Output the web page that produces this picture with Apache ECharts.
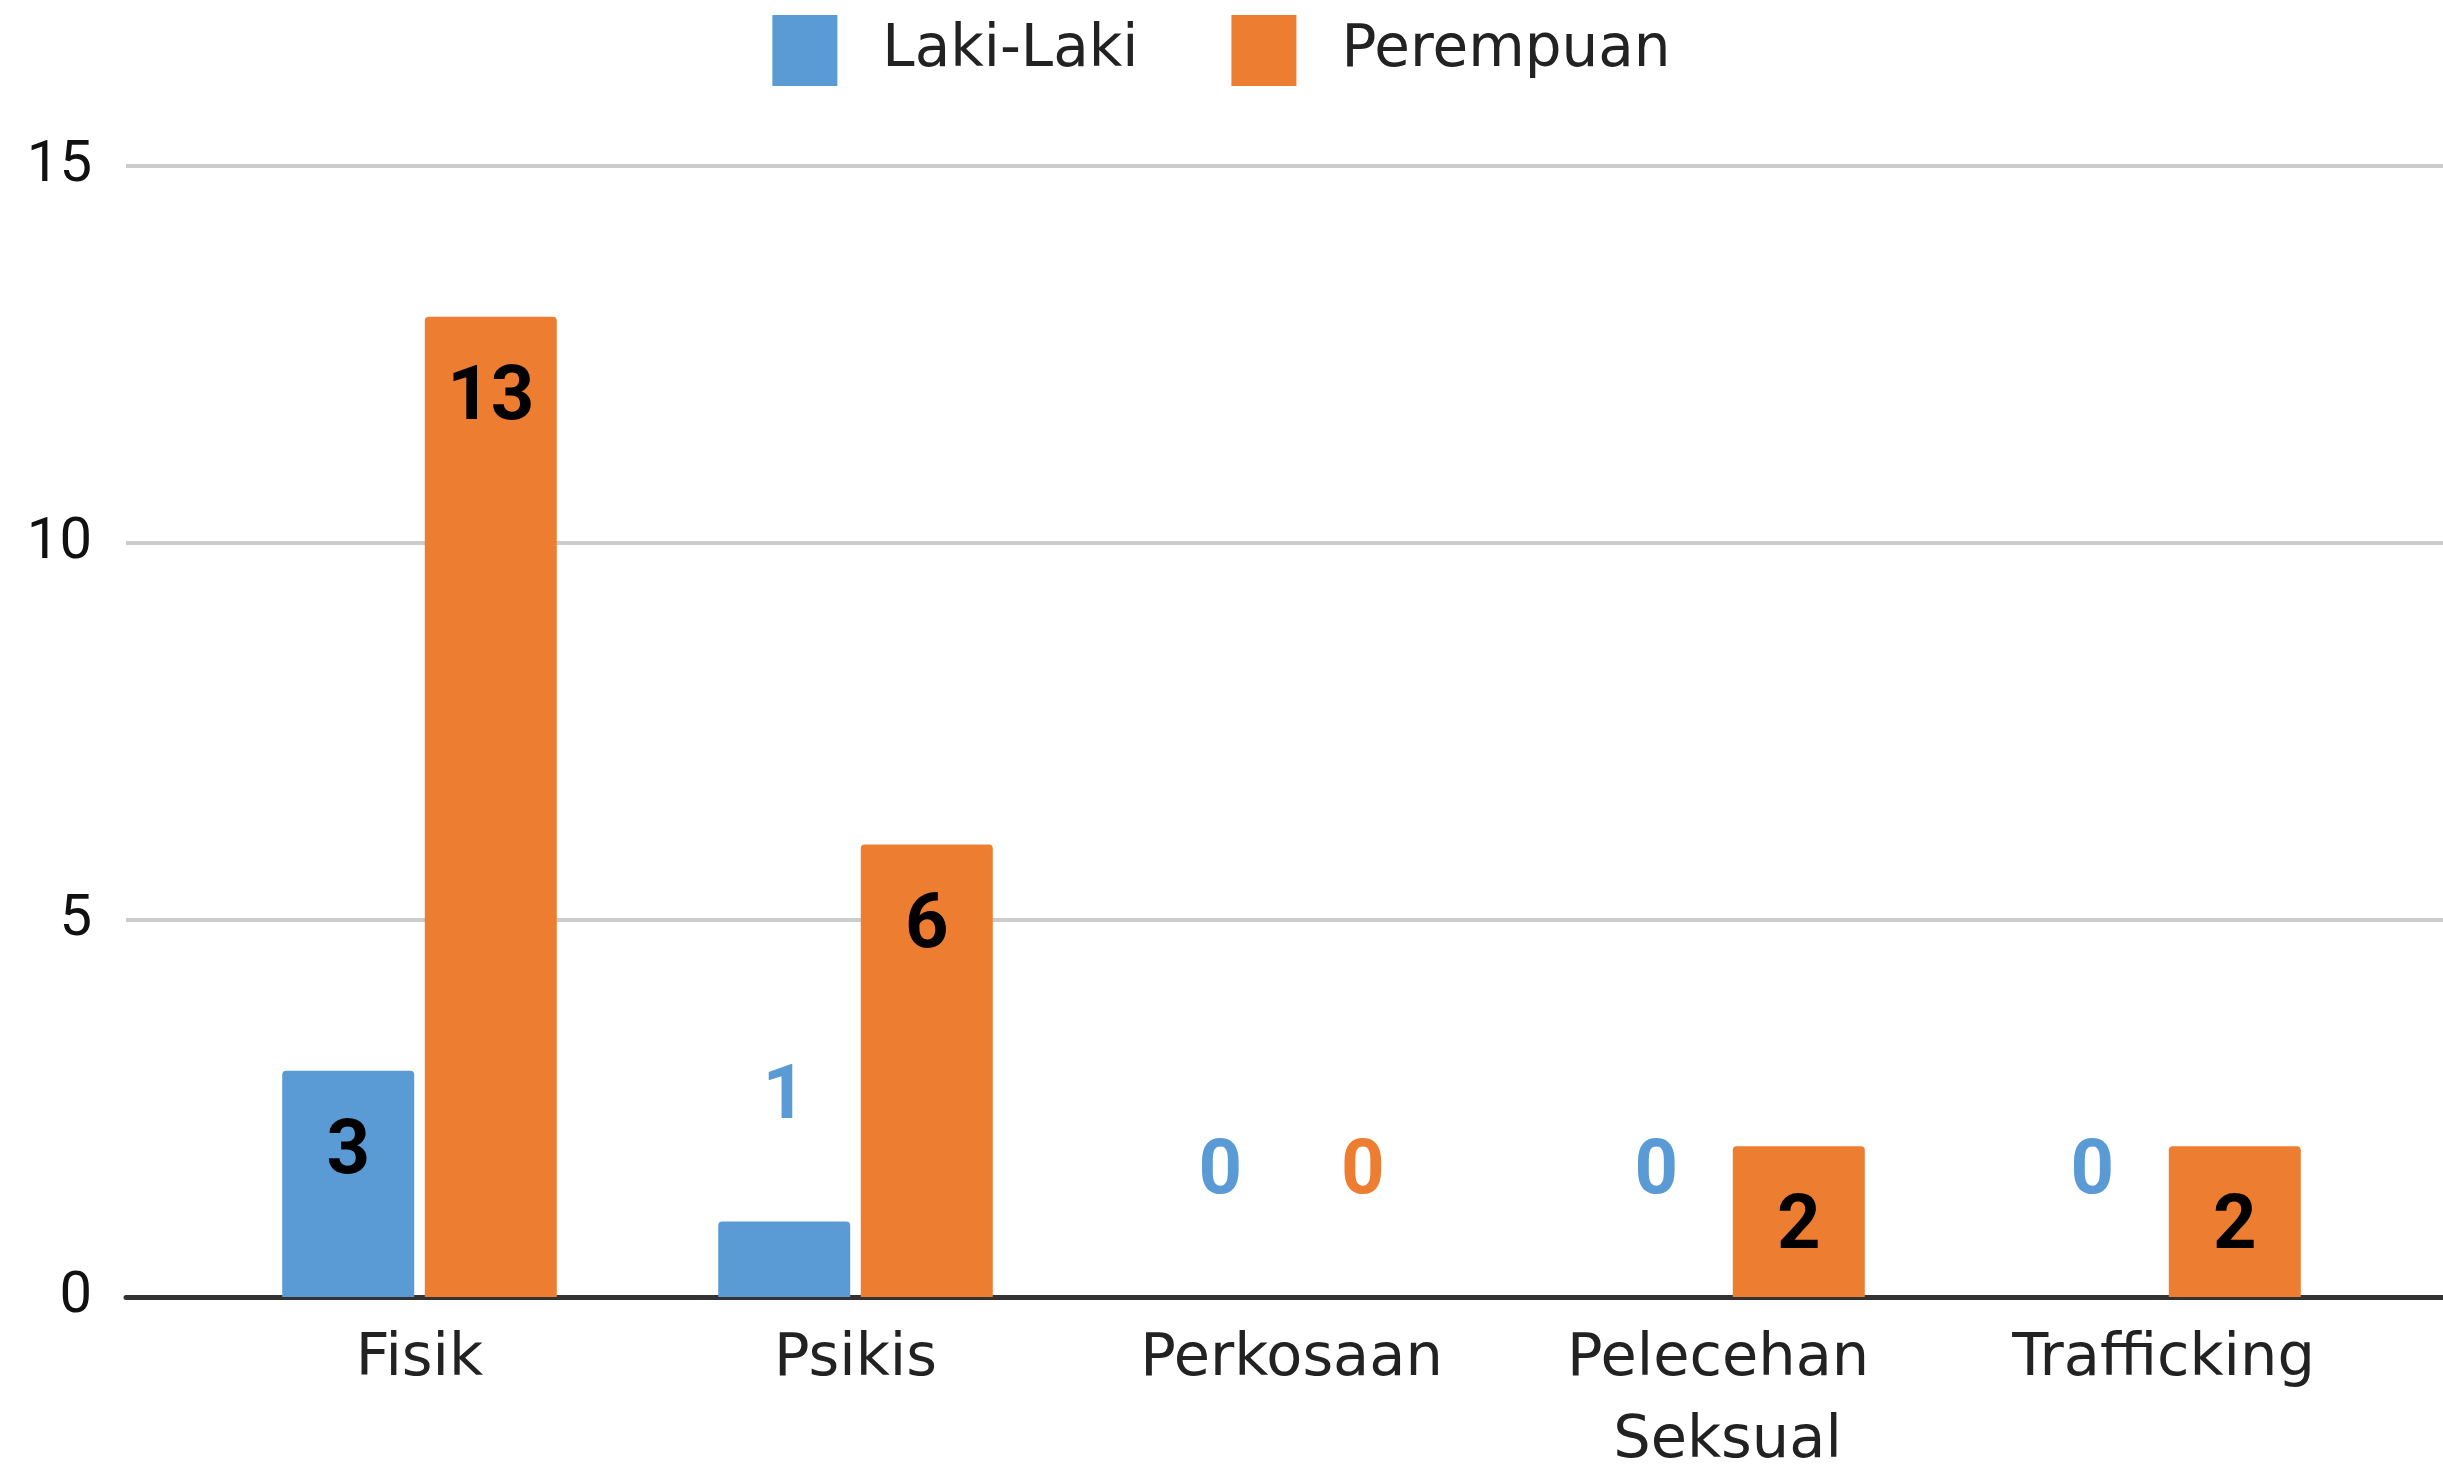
<!DOCTYPE html>
<html>
<head>
<meta charset="utf-8">
<script src="https://cdn.jsdelivr.net/npm/echarts@6/dist/echarts.min.js"></script>
<style>
  html, body { margin: 0; padding: 0; background: #fff; }
  #chart { width: 2443px; height: 1464px; }
</style>
</head>
<body>
<div id="chart"></div>
<script>
const categories = ['Fisik', 'Psikis', 'Perkosaan', 'Pelecehan Seksual', 'Trafficking']
const lakiLaki = [3, 1, 0, 0, 0]
const perempuan = [13, 6, 0, 2, 2]
const seriesNames = ['Laki-Laki', 'Perempuan']
const colors = ['#5B9BD5', '#ED7D31']

// big bars get the number inside, small ones above in series colour
function toBarData(values, color) {
    return values.map(v => {
        if (v >= 2) {
            return { value: v, label: { position: 'insideTop', distance: 45, color: '#000' } }
        }
        return { value: v, label: { position: 'top', distance: 85, color: color } }
    })
}

const chart = echarts.init(document.getElementById('chart'))

const option = {
    animation: false,
    backgroundColor: '#fff',
    legend: {
        top: 10,
        left: 'center',
        itemWidth: 65,
        itemHeight: 71,
        itemGap: 93,
        icon: 'rect',
        data: seriesNames,
        textStyle: {
            fontFamily: 'DejaVu Sans',
            fontSize: 58,
            color: '#222',
            padding: [0, 0, 0, 40]
        }
    },
    grid: [
        { left: 126, right: 0, top: 166, bottom: 167, outerBoundsMode: 'none' },
        { left: 201.5, right: 61.5, top: 166, bottom: 167, outerBoundsMode: 'none' }
    ],
    xAxis: [
        {
            gridIndex: 0,
            type: 'category',
            data: [''],
            axisLine: { show: true, lineStyle: { color: '#333', width: 5 } },
            axisTick: { show: false },
            axisLabel: { show: false }
        },
        {
            gridIndex: 1,
            type: 'category',
            data: categories,
            axisLine: { show: false },
            axisTick: { show: false },
            axisLabel: {
                fontFamily: 'DejaVu Sans',
                fontSize: 59,
                lineHeight: 82,
                color: '#222',
                margin: 22,
                width: 400,
                overflow: 'break',
                interval: 0
            }
        }
    ],
    yAxis: [
        {
            gridIndex: 0,
            type: 'value',
            min: 0,
            max: 15,
            interval: 5,
            axisLine: { show: false },
            axisTick: { show: false },
            axisLabel: {
                fontFamily: 'Roboto',
                fontSize: 58,
                color: '#111',
                margin: 34
            },
            splitLine: { lineStyle: { color: '#cccccc', width: 4 } }
        },
        {
            gridIndex: 1,
            type: 'value',
            min: 0,
            max: 15,
            interval: 5,
            show: false,
            splitLine: { show: false }
        }
    ],
    series: [
        {
            name: seriesNames[0],
            type: 'bar',
            xAxisIndex: 1,
            yAxisIndex: 1,
            barWidth: 132,
            barGap: '8%',
            itemStyle: { color: colors[0], borderRadius: [4, 4, 0, 0] },
            label: {
                show: true,
                fontFamily: 'Roboto',
                fontWeight: 'bold',
                fontSize: 76
            },
            data: toBarData(lakiLaki, colors[0])
        },
        {
            name: seriesNames[1],
            type: 'bar',
            xAxisIndex: 1,
            yAxisIndex: 1,
            barWidth: 132,
            barGap: '8%',
            itemStyle: { color: colors[1], borderRadius: [4, 4, 0, 0] },
            label: {
                show: true,
                fontFamily: 'Roboto',
                fontWeight: 'bold',
                fontSize: 76
            },
            data: toBarData(perempuan, colors[1])
        }
    ]
}

chart.setOption(option)
</script>
</body>
</html>
